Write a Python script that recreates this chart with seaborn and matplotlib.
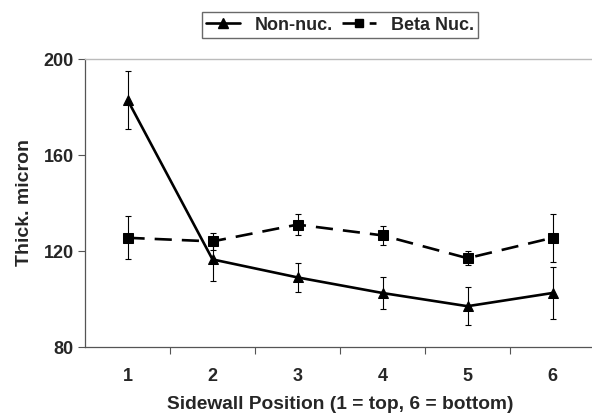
import numpy as np
import pandas as pd
import matplotlib
matplotlib.use("Agg")
import matplotlib.pyplot as plt
import seaborn as sns

sns.set_style("white")
plt.rcParams['font.family'] = ['Liberation Sans', 'DejaVu Sans']
plt.rcParams['font.weight'] = 'bold'

positions = [1, 2, 3, 4, 5, 6]
non_nuc = [183, 116.5, 109, 102.5, 97, 102.5]
non_nuc_err = [12, 9, 6, 6.5, 8, 11]
beta_nuc = [125.5, 124, 131, 126.5, 117, 125.5]
beta_nuc_err = [9, 3.5, 4.5, 4, 3, 10]

df = pd.DataFrame({
    'pos': positions * 2,
    'thick': non_nuc + beta_nuc,
    'series': ['Non-nuc.'] * 6 + ['Beta Nuc.'] * 6,
})

fig = plt.figure(figsize=(5.92, 4.18), dpi=100)
ax = fig.add_axes([85 / 592, 71 / 418, 510 / 592, 288 / 418])

# error bars first so markers sit on top
ax.errorbar(positions, non_nuc, yerr=non_nuc_err, fmt='none', ecolor='black',
            elinewidth=0.8, capsize=2.5, capthick=0.8, zorder=2)
ax.errorbar(positions, beta_nuc, yerr=beta_nuc_err, fmt='none', ecolor='black',
            elinewidth=0.8, capsize=2.5, capthick=0.8, zorder=2)

sns.lineplot(data=df, x='pos', y='thick', hue='series', style='series',
             palette=['black', 'black'], markers=['^', 's'],
             dashes=[(1, 0), (6.5, 3.8)], markersize=7, linewidth=1.9,
             markeredgecolor='black', ax=ax, legend=False, zorder=3)

ax.set_xlim(0.5, 6.5)
ax.set_ylim(80, 200)
ax.set_yticks([80, 120, 160, 200])
ax.set_xticks([1.5, 2.5, 3.5, 4.5, 5.5], minor=False)
ax.set_xticklabels([])
ax.set_xticks(positions, minor=True)
ax.set_xticklabels([str(p) for p in positions], minor=True)

ax.tick_params(axis='x', which='major', direction='out', length=5, width=0.8,
               color='#555555', bottom=True)
ax.tick_params(axis='x', which='minor', length=0, pad=15, labelsize=13)
ax.tick_params(axis='y', direction='out', length=5, width=0.8,
               color='#555555', left=True, labelsize=13, pad=3)
for lab in ax.get_xticklabels(minor=True) + ax.get_yticklabels():
    lab.set_fontweight('bold')

for side in ['left', 'bottom']:
    ax.spines[side].set_color('#555555')
    ax.spines[side].set_linewidth(0.9)
ax.spines['top'].set_color('#bbbbbb')
ax.spines['top'].set_linewidth(1)
ax.spines['right'].set_visible(False)

ax.set_xlabel('Sidewall Position (1 = top, 6 = bottom)', fontsize=13.8,
              fontweight='bold', labelpad=8)
ax.set_ylabel('Thick. micron', fontsize=14, fontweight='bold', labelpad=8)

handles = [
    plt.Line2D([], [], color='black', marker='^', markersize=7, linewidth=1.9),
    plt.Line2D([], [], color='black', marker='s', markersize=6, linewidth=1.9,
               dashes=(6.5, 3.8)),
]
leg = fig.legend(handles, ['Non-nuc.', 'Beta Nuc.'], loc='center',
                 bbox_to_anchor=(340 / 592, 1 - 25 / 418), ncol=2,
                 frameon=True, fancybox=False, fontsize=13, handlelength=1.9,
                 columnspacing=0.5, handletextpad=0.8, borderpad=0.25,
                 borderaxespad=0)
leg.get_frame().set_edgecolor('#444444')
leg.get_frame().set_linewidth(1)
for t in leg.get_texts():
    t.set_fontweight('bold')

fig.savefig('out.png', dpi=100)
